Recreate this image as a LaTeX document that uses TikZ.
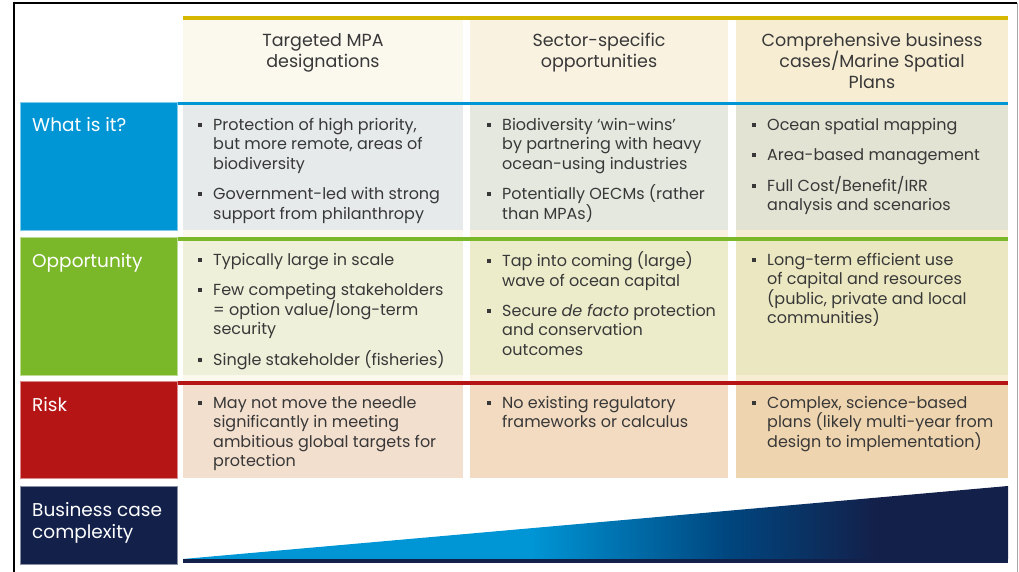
\documentclass[tikz,border=0pt]{standalone}
\usepackage{fontspec}
\setmainfont{Poppins}
\usepackage{tikz}
\definecolor{gold}{HTML}{D6B800}
\definecolor{skyb}{HTML}{0096D6}
\definecolor{leaf}{HTML}{7AB82A}
\definecolor{brick}{HTML}{B51515}
\definecolor{navy}{HTML}{13204A}
\definecolor{midb}{HTML}{00467F}
\definecolor{txt}{HTML}{383838}
\definecolor{hA}{HTML}{FBF8EE}
\definecolor{hB}{HTML}{F9F2E0}
\definecolor{hC}{HTML}{F7EDD3}
\definecolor{wA}{HTML}{E6EAEA}
\definecolor{wB}{HTML}{E5E8DF}
\definecolor{wC}{HTML}{E3E3D4}
\definecolor{oA}{HTML}{EEF0DA}
\definecolor{oB}{HTML}{ECECCB}
\definecolor{oC}{HTML}{EBE8C1}
\definecolor{rA}{HTML}{F3DFCE}
\definecolor{rB}{HTML}{F2DBC0}
\definecolor{rC}{HTML}{EFD5AF}
\pgfdeclarehorizontalshading{wedge}{100bp}{color(0bp)=(skyb); color(46bp)=(skyb); color(58bp)=(midb); color(67bp)=(navy); color(100bp)=(navy)}
\newcommand\bul{\strut\makebox[15pt][l]{\raisebox{3.5pt}{\rule{4pt}{4pt}}}}
\newcommand\ind{\hspace*{15pt}}
\newcommand\tight{\lineskiplimit-20pt\relax}

\begin{document}
\begin{tikzpicture}[x=1pt,y=-1pt,
    hdr/.style={anchor=north,align=center,inner sep=0pt,text=txt,font=\fontsize{17.5}{21}\selectfont\tight},
    lab/.style={anchor=base west,align=left,inner sep=0pt,text=white,font=\fontsize{18.5}{22.5}\selectfont\tight},
    cell/.style={anchor=north west,align=left,inner sep=0pt,text=txt,font=\fontsize{16}{19.5}\selectfont\tight}]
      \useasboundingbox (0,0) rectangle (1019,572);
      \draw[line width=2pt] (13.5,572) -- (13.5,3.5) -- (1017,3.5);
      \draw[black!35,line width=1pt] (1017,3.5) -- (1017,572);
      \fill[hA] (183,20) rectangle (463,478);
      \fill[hB] (470,20) rectangle (728,478);
      \fill[hC] (736,20) rectangle (1008,478);
      \fill[gold] (183,16) rectangle (1008,20);
      \fill[skyb] (20,102) rectangle (1008,105.5);
      \filldraw[skyb,draw=skyb!50] (20.5,102) rectangle (177,230);
      \fill[wA] (183,105.5) rectangle (463,230);
      \fill[wB] (470,105.5) rectangle (728,230);
      \fill[wC] (736,105.5) rectangle (1008,230);
      \fill[leaf] (20,237) rectangle (1008,240.5);
      \filldraw[leaf,draw=leaf!50] (20.5,237) rectangle (177,375);
      \fill[oA] (183,240.5) rectangle (463,375);
      \fill[oB] (470,240.5) rectangle (728,375);
      \fill[oC] (736,240.5) rectangle (1008,375);
      \fill[brick] (20,381) rectangle (1008,384.5);
      \filldraw[brick,draw=brick!50] (20.5,381) rectangle (177,478);
      \fill[rA] (183,384.5) rectangle (463,478);
      \fill[rB] (470,384.5) rectangle (728,478);
      \fill[rC] (736,384.5) rectangle (1008,478);
      \filldraw[navy,draw=navy!50] (20.5,486) rectangle (177,564);
      \shade[shading=wedge] (183,559) -- (1008,486) -- (1008,559) -- cycle;
      \fill[navy] (183,559) rectangle (1008,563);
      \node[hdr] (colA) at (323,31.5) {\strut Targeted MPA\\designations};
      \node[hdr] (colB) at (599,31.5) {\strut Sector-specific\\opportunities};
      \node[hdr] (colC) at (872,31.5) {\strut Comprehensive business\\cases/Marine Spatial\\Plans};
      \node[lab] (what) at (32,132) {What is it?};
      \node[lab] (opp) at (32,267) {Opportunity};
      \node[lab] (risk) at (32,411) {Risk};
      \node[lab,anchor=north west] (cplx) at (32,500.2) {\strut Business case\\complexity};
      \node[cell] (whatA) at (198,116.4) {\bul Protection of high priority,\\ \ind but more remote, areas of\\ \ind biodiversity\\[11pt] \bul Government-led with strong\\ \ind support from philanthropy};
      \node[cell] (whatB) at (487,116.4) {\bul Biodiversity `win-wins'\\ \ind by partnering with heavy\\ \ind ocean-using industries\\[11pt] \bul Potentially OECMs (rather\\ \ind than MPAs)};
      \node[cell] (whatC) at (752,116.4) {\bul Ocean spatial mapping\\[11pt] \bul Area-based management\\[11pt] \bul Full Cost/Benefit/IRR\\ \ind analysis and scenarios};
      \node[cell] (oppA) at (198,251.4) {\bul Typically large in scale\\[11pt] \bul Few competing stakeholders\\ \ind = option value/long-term\\ \ind security\\[11pt] \bul Single stakeholder (fisheries)};
      \node[cell] (oppB) at (487,251.4) {\bul Tap into coming (large)\\ \ind wave of ocean capital\\[10.5pt] \bul Secure \emph{de facto} protection\\ \ind and conservation\\ \ind outcomes};
      \node[cell] (oppC) at (752,251.4) {\bul Long-term efficient use\\ \ind of capital and resources\\ \ind (public, private and local\\ \ind communities)};
      \node[cell] (riskA) at (198,394.4) {\bul May not move the needle\\ \ind significantly in meeting\\ \ind ambitious global targets for\\ \ind protection};
      \node[cell] (riskB) at (487,394.4) {\bul No existing regulatory\\ \ind frameworks or calculus};
      \node[cell] (riskC) at (752,394.4) {\bul Complex, science-based\\ \ind plans (likely multi-year from\\ \ind design to implementation)};
    \end{tikzpicture}
\end{document}
